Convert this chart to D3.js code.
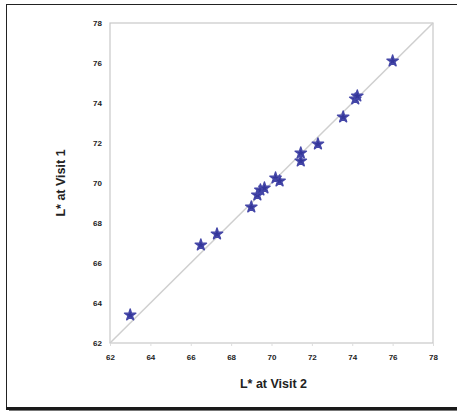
<!DOCTYPE html>
<html>
<head>
<meta charset="utf-8">
<script src="https://cdn.jsdelivr.net/npm/d3@7/dist/d3.min.js"></script>
<style>
  html, body { margin: 0; padding: 0; background: #fff; }
  svg { display: block; }
</style>
</head>
<body>
<svg id="chart" width="457" height="411"></svg>
<script>
// L* measured at two visits
const visit2 = [63.0, 66.5, 67.3, 69.0, 69.3, 69.45, 69.65, 70.2, 70.4, 71.45, 71.45, 72.3, 73.55, 74.15, 74.25, 76.0];
const visit1 = [63.4, 66.9, 67.45, 68.8, 69.4, 69.65, 69.75, 70.25, 70.1, 71.5, 71.1, 71.95, 73.3, 74.2, 74.35, 76.1];
const tickValues = [62, 64, 66, 68, 70, 72, 74, 76, 78];
const xTitle = "L* at Visit 2";
const yTitle = "L* at Visit 1";

const svg = d3.select("#chart");
const W = 457, H = 411;
const plot = { left: 110, right: 433, top: 23, bottom: 343 };

// outer frame with a drop shadow along the bottom
svg.append("rect").attr("x", 0).attr("y", 0).attr("width", W).attr("height", H).attr("fill", "#fff");
svg.append("line").attr("x1", 6).attr("x2", W).attr("y1", 4.5).attr("y2", 4.5)
  .attr("stroke", "#222").attr("stroke-width", 1);
svg.append("line").attr("x1", 6.5).attr("x2", 6.5).attr("y1", 4).attr("y2", 408)
  .attr("stroke", "#222").attr("stroke-width", 1);
svg.append("rect").attr("x", 6).attr("y", 407).attr("width", W - 6).attr("height", 3).attr("fill", "#1a1a1a");
svg.append("rect").attr("x", 9).attr("y", 410).attr("width", W - 9).attr("height", 1).attr("fill", "#777");

const x = d3.scaleLinear().domain([62, 78]).range([plot.left, plot.right]);
const y = d3.scaleLinear().domain([62, 78]).range([plot.bottom, plot.top]);

// plot box
svg.append("rect")
  .attr("x", plot.left).attr("y", plot.top)
  .attr("width", plot.right - plot.left).attr("height", plot.bottom - plot.top)
  .attr("fill", "none").attr("stroke", "#c8c8c8").attr("stroke-width", 1.2);

// axes
const xAxis = svg.append("g").attr("transform", `translate(0,${plot.bottom})`)
  .call(d3.axisBottom(x).tickValues(tickValues).tickSize(3).tickPadding(8).tickFormat(d3.format("d")));
const yAxis = svg.append("g").attr("transform", `translate(${plot.left},0)`)
  .call(d3.axisLeft(y).tickValues(tickValues).tickSize(0).tickPadding(8).tickFormat(d3.format("d")));
[xAxis, yAxis].forEach(g => {
  g.select(".domain").remove();
  g.selectAll(".tick line").attr("stroke", "#ddd");
  g.selectAll("text")
    .attr("fill", "#222")
    .attr("font-family", "Liberation Sans, Arial, sans-serif")
    .attr("font-weight", "bold")
    .attr("font-size", 8);
});

// identity line
svg.append("line")
  .attr("x1", x(62)).attr("y1", y(62)).attr("x2", x(78)).attr("y2", y(78))
  .attr("stroke", "#cfcfcf").attr("stroke-width", 1.5);

// points
const star = d3.symbol().type(d3.symbolStar).size(40);
svg.append("g").selectAll("path")
  .data(visit2.map((v, i) => [v, visit1[i]]))
  .join("path")
  .attr("transform", d => `translate(${x(d[0])},${y(d[1])})`)
  .attr("d", star)
  .attr("fill", "#34369a")
  .attr("stroke", "#4547a8")
  .attr("stroke-width", 1.4)
  .attr("stroke-linejoin", "round");

// axis titles
svg.append("text")
  .attr("x", (plot.left + plot.right) / 2 + 2).attr("y", 388)
  .attr("text-anchor", "middle")
  .attr("font-family", "Liberation Sans, Arial, sans-serif")
  .attr("font-weight", "bold").attr("font-size", 12.5).attr("fill", "#222")
  .text(xTitle);
svg.append("text")
  .attr("transform", `translate(65,${(plot.top + plot.bottom) / 2}) rotate(-90)`)
  .attr("text-anchor", "middle")
  .attr("font-family", "Liberation Sans, Arial, sans-serif")
  .attr("font-weight", "bold").attr("font-size", 12.5).attr("fill", "#222")
  .text(yTitle);
</script>
</body>
</html>
